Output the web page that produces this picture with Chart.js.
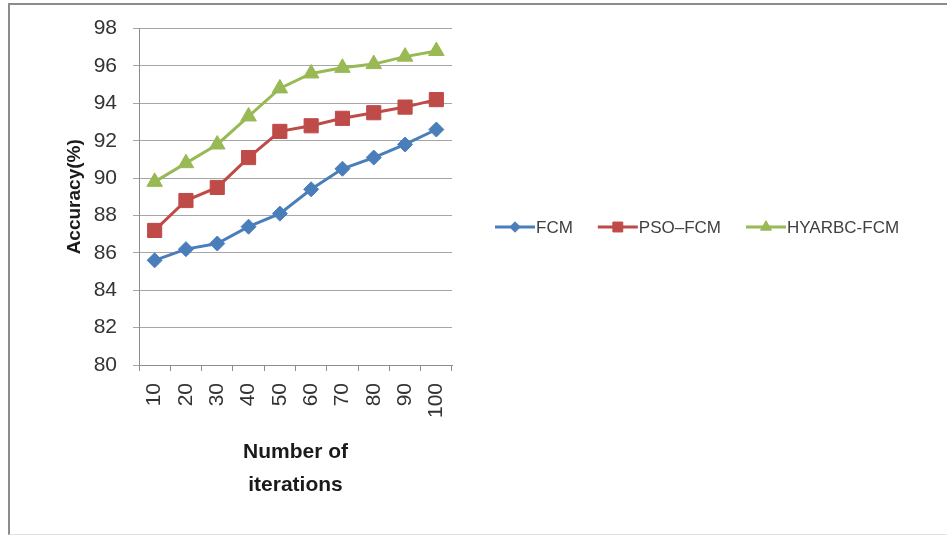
<!DOCTYPE html>
<html>
<head>
<meta charset="utf-8">
<script src="https://cdn.jsdelivr.net/npm/chart.js@4.4.1/dist/chart.umd.min.js"></script>
<style>
  html, body { margin: 0; padding: 0; background: #fff; }
  #wrap { position: relative; width: 947px; height: 538px; }
  #frame { position: absolute; left: 8px; top: 3px; width: 939px; height: 532px;
           border-top: 2px solid #8c8c8c; border-left: 2px solid #8c8c8c; border-bottom: 1px solid #e2e2e2; box-sizing: border-box; pointer-events: none; }
  canvas { position: absolute; left: 0; top: 0; }
</style>
</head>
<body>
<div id="wrap">
  <canvas id="c" width="947" height="538"></canvas>
  <div id="frame"></div>
</div>
<script>
const categories = ['10', '20', '30', '40', '50', '60', '70', '80', '90', '100'];
const fcm = [85.6, 86.2, 86.5, 87.4, 88.1, 89.4, 90.5, 91.1, 91.8, 92.6];
const psoFcm = [87.2, 88.8, 89.5, 91.1, 92.5, 92.8, 93.2, 93.5, 93.8, 94.2];
const hyarbcFcm = [89.8, 90.8, 91.8, 93.3, 94.8, 95.6, 95.9, 96.1, 96.5, 96.8];
const seriesNames = ['FCM', 'PSO\u2013FCM', 'HYARBC-FCM'];
const yTicks = [80, 82, 84, 86, 88, 90, 92, 94, 96, 98];

const colors = ['#4a7ebb', '#be4b48', '#98b954'];
const styles = ['rectRot', 'rect', 'triangle'];
const radii = [7.5, 10, 9];
const FONT = "'Liberation Sans', Arial, sans-serif";

const legendPlugin = {
  id: 'rowLegend',
  afterDraw(chart) {
    const ctx = chart.ctx;
    let x = 495;
    const y = 227;
    ctx.save();
    ctx.font = '17px ' + FONT;
    ctx.textBaseline = 'middle';
    ctx.textAlign = 'left';
    chart.data.datasets.forEach((ds, i) => {
      ctx.strokeStyle = ds.borderColor;
      ctx.lineWidth = 3;
      ctx.beginPath();
      ctx.moveTo(x, y);
      ctx.lineTo(x + 40, y);
      ctx.stroke();
      ctx.fillStyle = ds.backgroundColor;
      ctx.strokeStyle = ds.borderColor;
      ctx.lineWidth = 1;
      const r = ds.pointRadius * 0.7;
      if (Chart.helpers && Chart.helpers.drawPoint) {
        Chart.helpers.drawPoint(ctx, { pointStyle: ds.pointStyle, radius: r, rotation: 0, borderWidth: 1 }, x + 20, y);
      }
      ctx.fillStyle = '#404040';
      ctx.fillText(ds.label, x + 41, y + 1);
      x += 41 + ctx.measureText(ds.label).width + 25;
    });
    ctx.restore();
  }
};

const values = [fcm, psoFcm, hyarbcFcm];
const datasets = values.map((v, i) => ({
  label: seriesNames[i],
  data: v,
  borderColor: colors[i],
  backgroundColor: colors[i],
  borderWidth: 3,
  pointStyle: styles[i],
  pointRadius: radii[i],
  pointBorderWidth: 1,
  pointHoverRadius: radii[i],
  tension: 0,
  fill: false
}));

new Chart(document.getElementById('c'), {
  type: 'line',
  data: { labels: categories, datasets },
  plugins: [legendPlugin],
  options: {
    responsive: false,
    animation: false,
    layout: { padding: { left: 8, top: 27, right: 495, bottom: 0 } },
    plugins: { legend: { display: false }, tooltip: { enabled: false } },
    scales: {
      x: {
        type: 'category',
        offset: true,
        afterFit(s) { s.height = 173; },
        grid: { offset: true, drawOnChartArea: false, drawTicks: true, tickLength: 6, color: '#8c8c8c' },
        border: { color: '#8c8c8c', width: 1 },
        ticks: { minRotation: 90, maxRotation: 90, padding: 12, color: '#333', font: { family: FONT, size: 21 } },
        title: { display: true, text: ['Number of', 'iterations'], color: '#1a1a1a',
                 font: { family: FONT, size: 21, weight: 'bold', lineHeight: 1.57 }, padding: { top: 0, bottom: 36.5 } }
      },
      y: {
        min: 80, max: 98,
        afterFit(s) { s.width = 131; },
        afterBuildTicks(s) { s.ticks = yTicks.map(v => ({ value: v })); },
        grid: { color: '#a6a6a6', tickLength: 6, lineWidth: 1 },
        border: { color: '#8c8c8c', width: 1 },
        ticks: { stepSize: 2, padding: 16, color: '#333', font: { family: FONT, size: 21 } },
        title: { display: true, text: 'Accuracy(%)', color: '#1a1a1a',
                 font: { family: FONT, size: 19, weight: 'bold', lineHeight: 1.2 }, padding: { top: 55.6, bottom: 0 } }
      }
    }
  }
});
</script>
</body>
</html>
